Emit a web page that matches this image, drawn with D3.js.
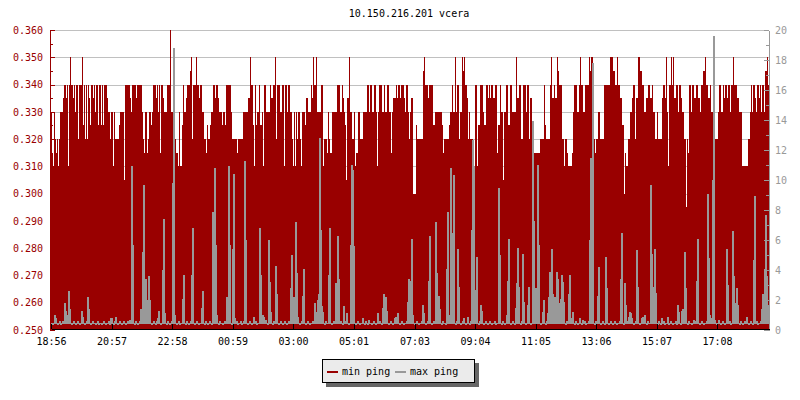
<!DOCTYPE html>
<html><head><meta charset="utf-8">
<script src="https://cdnjs.cloudflare.com/ajax/libs/d3/7.8.5/d3.min.js"></script>
<style>
html,body{margin:0;padding:0;background:#fff;}
svg{display:block;font-family:"DejaVu Sans Mono","Liberation Mono",monospace;font-size:10px;}
</style></head><body>
<svg id="chart" width="800" height="400"></svg>
<script>
const chartTitle = "10.150.216.201 vcera";
const startTime = "2024-01-01T18:56:00";
const stepMinutes = 2;
const xTickLabels = ["18:56","20:57","22:58","00:59","03:00","05:01","07:03","09:04","11:05","13:06","15:07","17:08"];
const leftMajorTicks = [250,260,270,280,290,300,310,320,330,340,350,360];
const leftMinorTicks = [255,265,275,285,295,305,315,325,335,345,355];
const rightMajorTicks = [0,2,4,6,8,10,12,14,16,18,20];
const rightMinorTicks = [1,3,5,7,9,11,13,15,17,19];
const seriesNames = ["min ping","max ping"];
const seriesColors = ["#990000","#999999"];
// min ping, thousandths (0.330 -> 330), one value per 2 minutes
const minPing = [
330,315,310,330,320,315,320,310,320,330,
330,330,335,340,340,335,340,310,340,350,
340,340,335,340,330,340,340,320,340,340,
340,350,325,340,320,340,320,340,335,325,
340,340,335,340,330,340,340,325,340,340,
325,340,325,340,340,340,335,330,330,320,
330,330,310,330,320,320,320,320,325,330,
330,330,330,305,340,340,340,340,340,335,
330,340,340,340,340,335,340,340,340,340,
340,330,320,315,330,330,315,320,330,330,
325,330,340,340,340,335,340,330,340,315,
340,340,335,330,330,330,340,340,340,360,
330,330,320,320,320,315,315,310,330,310,
310,325,340,330,330,335,340,340,340,345,
350,320,340,340,340,350,340,340,335,340,
340,330,330,320,320,315,325,320,320,325,
330,330,340,340,335,340,340,335,330,330,
330,325,330,330,325,340,340,340,340,340,
330,320,320,320,320,320,315,320,320,320,
320,320,330,330,330,330,330,335,335,350,
340,340,325,310,340,325,330,330,340,325,
325,330,310,340,340,330,330,330,330,340,
335,335,340,340,350,320,340,340,340,330,
330,340,340,310,340,340,330,340,340,330,
330,320,310,330,310,330,320,330,330,320,
310,330,330,330,325,335,335,330,330,330,
340,335,350,340,340,350,330,330,330,330,
340,340,310,320,320,320,315,330,320,315,
315,330,330,330,330,330,340,340,340,330,
330,340,335,330,325,305,335,335,350,330,
330,320,320,330,310,315,315,330,330,320,
320,320,330,330,330,330,340,340,330,340,
340,330,330,340,340,330,310,330,340,340,
340,330,330,340,330,330,340,340,330,330,
315,330,335,335,335,340,335,340,340,335,
340,340,340,335,330,340,340,330,320,330,
335,335,300,300,300,325,320,320,320,320,
320,320,345,350,340,340,340,335,340,340,
340,340,325,325,330,330,330,330,330,330,
330,325,315,320,320,320,320,320,325,330,
330,340,330,330,350,330,340,340,320,330,
330,350,345,350,340,340,335,320,330,320,
320,320,310,310,340,340,310,325,325,340,
340,340,330,325,325,340,340,335,340,335,
340,340,335,335,340,340,315,325,325,340,
330,330,305,330,330,340,340,325,325,340,
340,330,330,330,330,350,335,335,340,340,
320,320,340,340,340,330,340,340,320,335,
335,305,305,315,315,315,315,315,315,320,
320,320,320,340,325,320,320,320,320,340,
350,335,335,340,335,335,350,345,340,340,
340,320,320,310,320,320,315,310,310,310,
310,315,330,340,340,340,330,330,340,350,
340,340,330,330,340,340,340,340,350,345,
350,350,320,320,315,320,320,330,330,320,
320,320,320,340,340,340,340,340,340,350,
350,350,345,345,340,340,350,340,340,335,
335,325,325,300,315,310,310,320,320,330,
330,335,340,340,320,335,335,350,350,345,
345,340,340,330,330,335,335,340,340,335,
335,340,330,330,320,320,330,320,320,320,
320,335,340,340,335,350,330,310,340,340,
350,340,350,335,335,340,340,330,340,340,
335,330,330,320,320,295,320,315,340,340,
330,340,340,335,335,340,340,335,335,330,
340,340,345,345,350,340,340,335,335,340,
330,330,320,310,320,320,320,330,340,340,
330,330,340,335,340,340,335,340,340,330,
340,340,350,340,340,340,335,335,330,330,
330,310,310,310,310,310,310,320,320,330,
340,330,340,340,335,330,340,340,335,340,
330,340,340,330,345,345,350,340
];
// max ping, right axis units, one value per 2 minutes
const maxPing = [
0.5,0.4,0.5,1.0,0.8,0.5,0.4,0.5,0.6,0.4,
0.5,0.6,0.5,1.8,1.3,0.5,1.0,2.6,1.4,0.5,
0.4,0.5,0.6,0.5,0.4,0.5,0.6,0.5,0.4,0.5,
1.3,0.9,0.5,0.4,0.5,0.6,2.2,1.4,0.5,0.4,
0.5,0.6,0.5,0.5,0.4,0.5,0.6,0.4,0.5,0.5,
0.4,0.5,0.6,0.5,0.4,0.5,0.5,0.6,0.4,0.8,
0.8,0.5,0.4,0.6,0.9,0.5,0.4,0.5,0.6,0.5,
0.4,0.5,0.6,0.5,0.4,0.5,0.6,0.5,0.7,0.5,
10.9,5.7,0.5,0.4,0.6,0.5,0.4,0.5,0.6,1.4,
1.4,5.2,9.7,2.8,3.4,2.0,0.6,3.6,2.0,0.5,
0.4,0.5,0.6,0.5,0.4,0.6,0.8,1.3,0.5,0.4,
0.5,4.0,7.4,1.1,0.5,0.4,0.6,0.5,0.4,0.5,
0.6,9.8,18.8,1.0,0.5,0.4,0.5,0.6,0.4,0.5,
0.5,2.1,3.7,0.5,0.4,0.6,0.5,0.4,0.5,0.6,
3.7,6.8,0.5,0.4,0.5,0.6,0.5,0.4,0.5,0.5,
1.5,2.6,0.5,0.4,0.6,0.5,0.4,0.5,0.6,0.5,
0.4,7.9,4.2,10.8,5.7,1.0,0.5,0.4,0.6,0.5,
0.5,0.4,0.5,0.6,0.5,2.2,1.3,10.9,5.7,0.5,
0.4,5.4,10.4,0.8,0.5,0.6,0.4,0.5,0.5,0.6,
0.4,0.5,0.6,11.3,6.0,0.5,0.4,0.5,0.6,0.5,
0.4,0.5,0.9,0.5,0.6,0.4,0.5,0.5,6.8,3.7,
0.5,1.0,0.9,0.5,0.7,0.5,0.4,6.0,3.2,1.2,
0.5,0.4,0.6,0.5,4.3,2.4,0.5,0.4,0.5,0.6,
0.5,0.4,0.5,0.6,0.5,0.4,0.5,0.6,0.5,2.8,
5.0,1.3,2.2,1.0,7.2,3.8,0.9,0.5,0.4,0.5,
0.6,2.3,4.1,0.5,0.4,0.5,0.6,0.5,0.4,0.5,
0.5,0.6,0.5,1.8,1.2,0.5,2.0,2.4,12.8,6.7,
1.6,1.2,0.5,0.4,0.6,0.5,0.5,3.7,6.8,0.5,
0.4,0.5,0.6,0.5,3.1,1.8,6.3,3.4,0.5,0.6,
0.5,0.4,1.6,0.5,0.6,1.1,0.5,0.4,0.5,5.7,
11.0,10.7,5.6,0.5,0.4,0.5,0.6,0.5,0.4,0.5,
0.5,0.8,0.5,0.4,0.6,0.5,0.4,0.7,0.5,0.5,
0.4,0.5,0.6,0.5,0.4,0.5,1.1,0.5,0.6,0.5,
0.4,1.5,2.4,1.0,2.2,1.3,0.5,0.4,0.5,0.6,
0.5,0.4,0.5,0.8,0.9,0.9,1.1,0.5,0.4,0.5,
0.6,0.5,0.4,0.5,0.5,0.6,1.9,3.4,1.1,3.3,
6.1,1.0,0.5,0.4,0.5,0.6,0.5,0.4,0.5,0.5,
0.6,1.7,1.1,0.5,0.4,0.5,0.6,3.3,6.3,0.5,
0.4,0.5,0.6,0.5,7.2,3.8,0.5,2.3,1.4,0.5,
0.4,0.6,0.5,0.5,0.4,4.1,7.9,0.5,1.0,10.8,
5.6,6.5,10.3,0.5,0.4,0.6,5.4,2.9,0.5,0.4,
0.5,0.6,0.8,0.5,0.4,0.5,0.9,0.5,0.4,0.6,
6.7,12.7,10.9,0.5,2.7,4.9,0.5,0.4,0.6,1.7,
1.3,0.5,0.4,0.5,0.6,0.5,0.4,0.5,0.6,0.5,
0.4,0.5,0.5,0.6,0.4,0.5,0.5,9.5,5.0,0.5,
0.4,0.6,0.5,0.4,0.5,1.0,3.3,6.1,0.5,0.4,
0.5,0.6,0.5,0.4,1.5,3.1,5.5,2.9,0.5,0.4,
0.6,5.1,1.9,0.5,0.4,0.5,1.7,2.9,0.5,0.4,
0.5,13.9,7.3,1.6,2.8,0.5,11.0,5.7,0.5,0.4,
0.5,1.2,2.0,0.5,0.4,0.6,1.1,2.2,3.9,3.0,
5.4,2.4,0.5,2.2,1.7,3.9,3.4,1.8,1.0,2.1,
3.7,3.2,1.9,0.5,0.4,0.6,0.5,2.4,3.7,0.8,
0.5,1.2,0.5,0.4,0.6,0.5,0.4,0.5,0.8,0.5,
0.4,0.7,0.5,0.6,0.4,0.5,0.5,0.6,6.0,11.5,
9.1,17.8,0.5,0.4,0.6,0.5,2.3,4.2,0.5,0.4,
0.5,0.6,0.5,0.4,4.9,2.8,0.5,0.4,0.5,0.6,
0.5,0.4,0.5,0.6,0.5,0.4,0.5,0.5,0.6,3.4,
6.5,0.5,0.4,3.1,1.7,0.5,0.6,0.9,1.2,1.1,
0.8,0.5,0.4,0.5,0.6,5.3,2.9,0.5,0.4,0.5,
0.8,0.9,0.5,1.0,0.5,0.4,0.6,0.5,0.5,9.7,
5.1,0.5,2.9,5.4,2.5,0.5,0.4,0.6,0.5,0.4,
0.8,0.5,0.6,0.4,0.5,0.5,0.9,0.4,0.5,0.6,
0.5,0.4,0.5,0.5,0.6,0.4,1.7,1.2,0.5,0.4,
1.3,1.4,1.0,5.2,2.8,0.5,0.4,0.6,0.5,0.5,
0.4,0.5,0.7,0.6,0.5,3.3,6.1,0.5,0.4,0.5,
0.6,0.5,0.4,0.5,0.5,0.6,9.1,4.8,1.0,0.8,
0.5,10.0,19.6,0.7,0.5,0.4,0.5,0.7,0.5,0.4,
0.5,0.6,0.5,0.4,0.5,5.4,3.0,0.5,0.6,0.4,
0.5,6.6,3.6,1.8,0.5,2.8,1.7,0.5,0.4,0.6,
0.5,0.4,0.5,0.6,0.5,0.9,0.5,0.4,0.5,0.6,
0.5,0.4,4.7,8.9,0.5,0.6,0.4,0.5,0.5,0.6,
1.4,2.4,0.5,4.1,7.7,3.6,1.7,0.9
];

const svg = d3.select("#chart");
const plot = {left: 51, right: 769, top: 30, bottom: 330};

const t0 = new Date(startTime);
const n = minPing.length;
const stepMs = stepMinutes * 60000;
const times = d3.range(n + 1).map(i => new Date(t0.getTime() + i * stepMs));
const x = d3.scaleTime().domain([times[0], times[n]]).range([plot.left, plot.right]);
const yL = d3.scaleLinear().domain([250, 360]).range([plot.bottom, plot.top]);
const yR = d3.scaleLinear().domain([0, 20]).range([plot.bottom, plot.top]);

// tick dates from labels (with day rollover)
let day = 0, prevH = -1;
const tickDates = xTickLabels.map(l => {
  const [h, m] = l.split(":").map(Number);
  if (h < prevH) day++;
  prevH = h;
  const d = new Date(t0);
  d.setDate(d.getDate() + day);
  d.setHours(h, m, 0, 0);
  return d;
});

// title
svg.append("text").attr("x", 409).attr("y", 17).attr("text-anchor", "middle")
  .attr("fill", "#000").text(chartTitle);

// grid
svg.append("g").selectAll("line").data(leftMajorTicks.filter(v => v > 250)).join("line")
  .attr("x1", plot.left).attr("x2", plot.right)
  .attr("y1", d => Math.round(yL(d)) + 0.5).attr("y2", d => Math.round(yL(d)) + 0.5)
  .attr("stroke", "#c0c0c0").attr("stroke-width", 1);

// min ping area
const minData = minPing.concat([minPing[n - 1]]);
const area = d3.area()
  .x((d, i) => x(times[i]))
  .y0(yL(250))
  .y1(d => yL(d))
  .curve(d3.curveStepAfter);
svg.append("path").datum(minData).attr("d", area)
  .attr("fill", seriesColors[0]).attr("shape-rendering", "crispEdges");

// max ping: per-sample columns (spikes drawn solid) plus connecting step line
const maxData = maxPing.concat([maxPing[maxPing.length - 1]]);
const maxArea = d3.area()
  .x((d, i) => x(times[i]))
  .y0(d => Math.round(yR(Math.min(d, 0.5))) + 1)
  .y1(d => Math.round(yR(d)))
  .curve(d3.curveStepAfter);
svg.append("path").datum(maxData).attr("d", maxArea)
  .attr("fill", seriesColors[1]).attr("shape-rendering", "crispEdges");
const line = d3.line()
  .x((d, i) => x(times[i]))
  .y(d => Math.round(yR(d)) + 0.5)
  .curve(d3.curveStepAfter);
svg.append("path").datum(maxData).attr("d", line)
  .attr("transform", "translate(0.5,0)")
  .attr("fill", "none").attr("stroke", seriesColors[1]).attr("stroke-width", 1)
  .attr("shape-rendering", "crispEdges");

// axes
function styleAxis(g, color) {
  g.selectAll("path,line").attr("stroke", color).attr("shape-rendering", "crispEdges");
  g.selectAll("text").attr("fill", color);
  g.attr("font-family", null).attr("font-size", null);
}
const gLminor = svg.append("g").attr("transform", `translate(${plot.left - 1},0)`)
  .call(d3.axisLeft(yL).tickValues(leftMinorTicks).tickSize(-3).tickSizeOuter(0).tickFormat(""));
styleAxis(gLminor, "#990000");
const gL = svg.append("g").attr("transform", `translate(${plot.left - 1},0)`)
  .call(d3.axisLeft(yL).tickValues(leftMajorTicks).tickSize(-5).tickSizeOuter(0).tickPadding(7)
    .tickFormat(d => (d / 1000).toFixed(3)));
styleAxis(gL, "#990000");

const gRminor = svg.append("g").attr("transform", `translate(${plot.right},0)`)
  .call(d3.axisRight(yR).tickValues(rightMinorTicks).tickSize(-3).tickSizeOuter(0).tickFormat(""));
styleAxis(gRminor, "#999999");
const gR = svg.append("g").attr("transform", `translate(${plot.right},0)`)
  .call(d3.axisRight(yR).tickValues(rightMajorTicks).tickSize(-5).tickSizeOuter(0).tickPadding(6));
styleAxis(gR, "#999999");

const gB = svg.append("g").attr("transform", `translate(0,${plot.bottom - 1})`)
  .call(d3.axisBottom(x).tickValues(tickDates).tickSize(-5).tickSizeOuter(0).tickPadding(9)
    .tickFormat((d, i) => xTickLabels[i]));
styleAxis(gB, "#000");

// legend
const lg = svg.append("g").attr("shape-rendering", "crispEdges");
lg.append("rect").attr("x", 326).attr("y", 363).attr("width", 153).attr("height", 24).attr("fill", "#666");
lg.append("rect").attr("x", 322.5).attr("y", 359.5).attr("width", 152).attr("height", 23)
  .attr("fill", "#ebebeb").attr("stroke", "#000");
const legendItems = [{x: 327}, {x: 395}];
seriesNames.forEach((name, i) => {
  lg.append("line").attr("x1", legendItems[i].x).attr("x2", legendItems[i].x + 11)
    .attr("y1", 372).attr("y2", 372).attr("stroke", seriesColors[i]).attr("stroke-width", 2);
  lg.append("text").attr("x", legendItems[i].x + 15).attr("y", 375).attr("fill", "#000").text(name);
});
</script>
</body></html>
